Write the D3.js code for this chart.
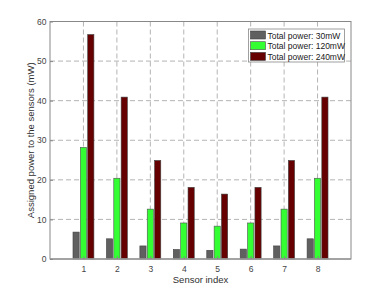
<!DOCTYPE html>
<html>
<head>
<meta charset="utf-8">
<script src="https://cdn.jsdelivr.net/npm/d3@7"></script>
<style>
body { margin: 0; background: white; }
text { font-family: "Liberation Sans", Arial, sans-serif; }
</style>
</head>
<body>
<div id="chart"></div>
<script>
var sensors = [1, 2, 3, 4, 5, 6, 7, 8];
var seriesNames = ["Total power: 30mW", "Total power: 120mW", "Total power: 240mW"];
var power30 = [6.8, 5.1, 3.3, 2.4, 2.2, 2.5, 3.3, 5.1];
var power120 = [28.2, 20.4, 12.6, 9.1, 8.3, 9.1, 12.6, 20.4];
var power240 = [56.7, 40.9, 24.9, 18.1, 16.4, 18.1, 24.9, 40.9];
var yTicks = [0, 10, 20, 30, 40, 50, 60];

var colors = ["#606060", "#33ff33", "#660000"];
var edges = ["#404040", "#505050", "#404040"];

var width = 388, height = 291;
var plotL = 50, plotR = 351, plotT = 21.5, plotB = 259;

var svg = d3.select("#chart").append("svg")
    .attr("width", width)
    .attr("height", height)
    .style("background-color", "white");

var x = d3.scaleLinear().domain([0, 9]).range([plotL, plotR]);
var y = d3.scaleLinear().domain([0, 60]).range([plotB, plotT]);

// grid
svg.append("g").selectAll("line")
    .data(yTicks.slice(1, -1))
    .enter().append("line")
    .attr("x1", plotL).attr("x2", plotR)
    .attr("y1", function (d) { return y(d); })
    .attr("y2", function (d) { return y(d); })
    .attr("stroke", "#b4b4b4")
    .attr("stroke-dasharray", "5,3");

svg.append("g").selectAll("line")
    .data(sensors)
    .enter().append("line")
    .attr("y1", plotT).attr("y2", plotB)
    .attr("x1", function (d) { return x(d); })
    .attr("x2", function (d) { return x(d); })
    .attr("stroke", "#b4b4b4")
    .attr("stroke-dasharray", "5,3");

// bars
var allSeries = [power30, power120, power240];
var offsets = [-0.22, 0, 0.22];
var barW = 0.185;

allSeries.forEach(function (vals, s) {
    svg.append("g").selectAll("rect")
        .data(vals)
        .enter().append("rect")
        .attr("x", function (d, i) { return x(sensors[i] + offsets[s] - barW / 2); })
        .attr("width", x(barW) - x(0))
        .attr("y", function (d) { return y(d); })
        .attr("height", function (d) { return y(0) - y(d); })
        .attr("fill", colors[s])
        .attr("stroke", edges[s])
        .attr("stroke-width", 0.6);
});

// axes box
svg.append("rect")
    .attr("x", plotL).attr("y", plotT)
    .attr("width", plotR - plotL).attr("height", plotB - plotT)
    .attr("fill", "none")
    .attr("stroke", "#888888")
    .attr("stroke-width", 1);

svg.append("line")
    .attr("x1", plotL).attr("x2", plotR)
    .attr("y1", plotB).attr("y2", plotB)
    .attr("stroke", "#999999")
    .attr("stroke-width", 1.5);

var yAxis = d3.axisLeft(y).tickValues(yTicks).tickSize(-3).tickPadding(3.5);
var yg = svg.append("g").attr("transform", "translate(" + plotL + ",0)").call(yAxis);
var xAxis = d3.axisBottom(x).tickValues(sensors).tickSize(-3).tickPadding(6.5);
var xg = svg.append("g").attr("transform", "translate(0," + plotB + ")").call(xAxis);

[yg, xg].forEach(function (g) {
    g.select(".domain").remove();
    g.selectAll(".tick line").attr("stroke", "#888888");
    g.selectAll(".tick text")
        .attr("fill", "#444444")
        .style("font-size", "8.5px")
        .style("font-family", "Liberation Sans, Arial, sans-serif");
});

svg.append("text")
    .attr("x", (plotL + plotR) / 2)
    .attr("y", 283)
    .attr("text-anchor", "middle")
    .attr("fill", "#303030")
    .style("font-size", "9.5px")
    .text("Sensor index");

svg.append("text")
    .attr("transform", "translate(33.5," + ((plotT + plotB) / 2) + ") rotate(-90)")
    .attr("text-anchor", "middle")
    .attr("fill", "#303030")
    .style("font-size", "9.5px")
    .text("Assigned power to the sensors (mW)");

// legend
var legend = svg.append("g").attr("transform", "translate(248.5,29)");
legend.append("rect")
    .attr("width", 96).attr("height", 33)
    .attr("fill", "white")
    .attr("stroke", "#888888")
    .attr("stroke-width", 0.8);

var items = legend.selectAll("g.item")
    .data(seriesNames)
    .enter().append("g")
    .attr("class", "item")
    .attr("transform", function (d, i) { return "translate(2," + (2 + i * 10.7) + ")"; });

items.append("rect")
    .attr("width", 15).attr("height", 8)
    .attr("fill", function (d, i) { return colors[i]; })
    .attr("stroke", function (d, i) { return edges[i]; })
    .attr("stroke-width", 0.6);

items.append("text")
    .attr("x", 17)
    .attr("y", 7.5)
    .attr("fill", "#202020")
    .style("font-size", "8.5px")
    .text(function (d) { return d; });
</script>
</body>
</html>
